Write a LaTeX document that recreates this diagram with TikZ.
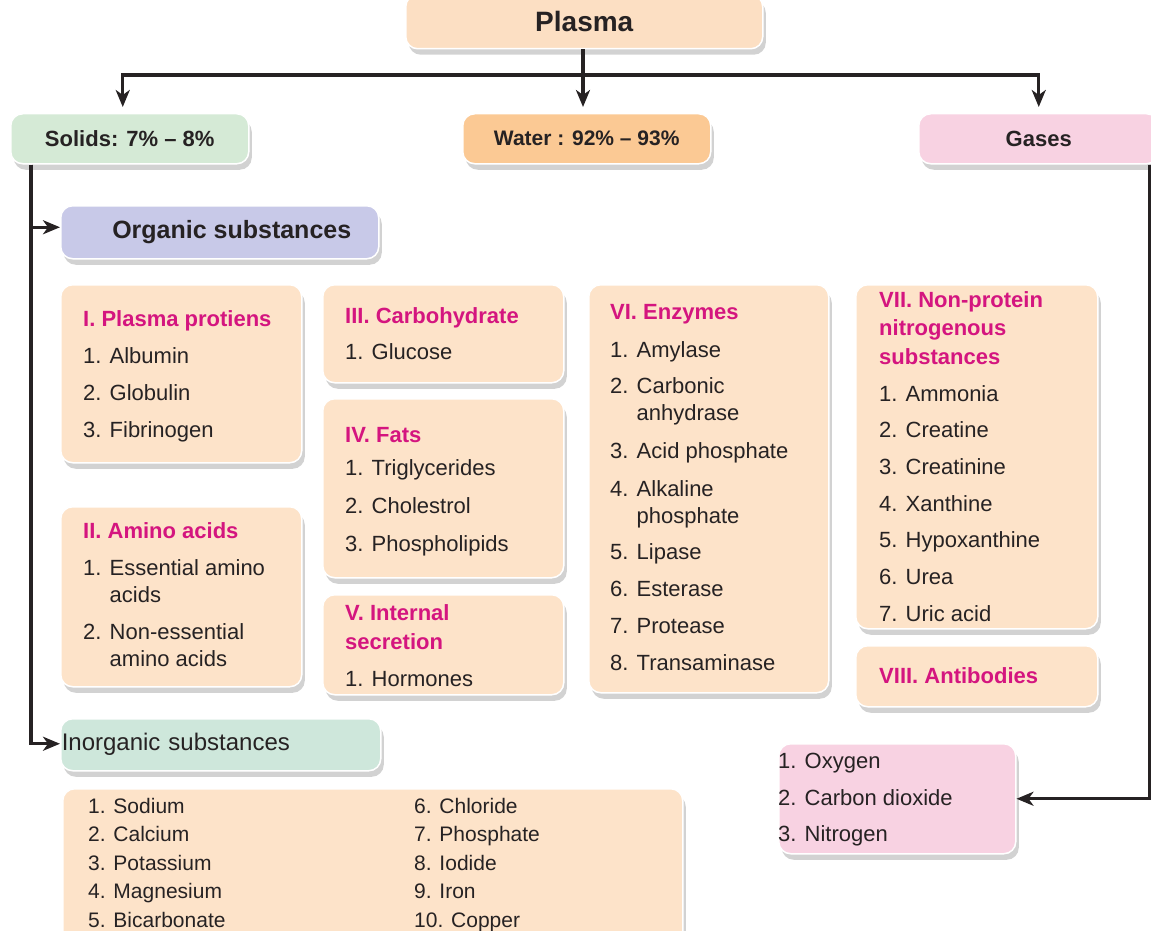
\documentclass[tikz,border=0pt]{standalone}
\usepackage{fontspec}
\setmainfont{Liberation Sans}
\usetikzlibrary{shadows,arrows.meta,calc}
\definecolor{peach}{HTML}{FDE3C9}
\definecolor{plasmac}{HTML}{FCDFC3}
\definecolor{waterc}{HTML}{FBC994}
\definecolor{solidc}{HTML}{D5EAD6}
\definecolor{gasc}{HTML}{F8D2E2}
\definecolor{orgc}{HTML}{C8C9E8}
\definecolor{inorgc}{HTML}{CEE7DB}
\definecolor{mag}{HTML}{D4157F}
\definecolor{ink}{HTML}{262223}
\newcommand\ttl[1]{{\color{mag}\bfseries #1}}
\begin{document}
\begin{tikzpicture}[x=1pt,y=-1pt,
  box/.style={draw=white, line width=1.5pt, rounded corners=12pt,
    drop shadow={shadow xshift=3pt, shadow yshift=-6pt, opacity=0.25, fill=black!70},
    inner sep=0pt, anchor=north west, text=ink},
  txt/.style={anchor=north west, align=left, inner sep=0pt, text=ink,
    font=\fontsize{22}{27}\selectfont},
  head/.style={font=\fontsize{22}{27}\selectfont\bfseries},
  conn/.style={line width=3.4pt, draw=ink},
  arr/.style={conn, -{Stealth[length=17pt,width=14pt,inset=5pt]}}
]
\useasboundingbox (0,0) rectangle (1151,931);

% top level boxes
\node[box, fill=plasmac, minimum width=357pt, minimum height=54pt,
  font=\fontsize{28}{30}\selectfont\bfseries] (plasma) at (405,-6) {Plasma};
\node[box, fill=solidc, minimum width=238pt, minimum height=50pt, head] (solids) at (10,113) {Solids: 7\% -- 8\%};
\node[box, fill=waterc, minimum width=248pt, minimum height=50pt,
  font=\fontsize{21}{27}\selectfont\bfseries] (water) at (462,113) {Water : 92\% -- 93\%};
\node[box, fill=gasc, minimum width=240pt, minimum height=50pt, head] (gases) at (918,113) {Gases};

% organic / inorganic headers
\node[box, fill=orgc, minimum width=318pt, minimum height=53pt,
  font=\fontsize{25}{27}\selectfont\bfseries] (org) at (60,205) {\hspace*{24pt}Organic substances};
\node[box, fill=inorgc, minimum width=320pt, minimum height=52pt, align=left, text width=318pt,
  font=\fontsize{24}{27}\selectfont] (inorg) at (60,718) {Inorganic substances};

% category boxes
\node[box, fill=peach, minimum width=241pt, minimum height=178pt] (b1) at (60,284) {};
\node[box, fill=peach, minimum width=241pt, minimum height=180pt] (b2) at (60,506) {};
\node[box, fill=peach, minimum width=241pt, minimum height=98pt] (b3) at (322,284) {};
\node[box, fill=peach, minimum width=241pt, minimum height=179pt] (b4) at (322,398) {};
\node[box, fill=peach, minimum width=241pt, minimum height=100pt] (b5) at (322,594) {};
\node[box, fill=peach, minimum width=240pt, minimum height=408pt] (b6) at (588,284) {};
\node[box, fill=peach, minimum width=242pt, minimum height=344pt] (b7) at (855,284) {};
\node[box, fill=peach, minimum width=242pt, minimum height=61pt] (b8) at (855,645) {};
\node[box, fill=peach, minimum width=620pt, minimum height=160pt] (b9) at (62,788) {};
\node[box, fill=gasc, minimum width=237pt, minimum height=110pt] (gl) at (778,743) {};

% texts
\node[txt] (t1) at (83,310) {\ttl{I. Plasma protiens}\\[10pt]1. Albumin\\[10pt]2. Globulin\\[10pt]3. Fibrinogen};
\node[txt] (t2) at (83,522) {\ttl{II. Amino acids}\\[10pt]1. Essential amino\\\phantom{1. }acids\\[10pt]2. Non-essential\\\phantom{2. }amino acids};
\node[txt] (t3) at (345,307) {\ttl{III. Carbohydrate}\\[9pt]1. Glucose};
\node[txt] (t4) at (345,427) {\ttl{IV. Fats}\\[6pt]1. Triglycerides\\[11pt]2. Cholestrol\\[11pt]3. Phospholipids};
\node[txt] (t5) at (345,604) {\ttl{V. Internal}\\[2pt]\ttl{secretion}\\[10pt]1. Hormones};
\node[txt] (t6) at (610,304) {\ttl{VI. Enzymes}\\[11pt]1. Amylase\\[9pt]2. Carbonic\\\phantom{2. }anhydrase\\[11pt]3. Acid phosphate\\[11pt]4. Alkaline\\\phantom{4. }phosphate\\[9pt]5. Lipase\\[10pt]6. Esterase\\[10pt]7. Protease\\[10pt]8. Transaminase};
\node[txt] (t7) at (879,291) {\ttl{VII. Non-protein}\\[1.5pt]\ttl{nitrogenous}\\[1.5pt]\ttl{substances}\\[10pt]1. Ammonia\\[9.7pt]2. Creatine\\[9.7pt]3. Creatinine\\[9.7pt]4. Xanthine\\[9.7pt]5. Hypoxanthine\\[9.7pt]6. Urea\\[9.7pt]7. Uric acid};
\node[txt] (t8) at (879,667) {\ttl{VIII. Antibodies}};
\node[txt, font=\fontsize{21}{28.5}\selectfont] (t9) at (88,798) {1. Sodium\\2. Calcium\\3. Potassium\\4. Magnesium\\5. Bicarbonate};
\node[txt, font=\fontsize{21}{28.5}\selectfont] (t10) at (414,798) {6. Chloride\\7. Phosphate\\8. Iodide\\9. Iron\\10. Copper};
\node[txt] (t11) at (778,753) {1. Oxygen\\[9.5pt]2. Carbon dioxide\\[9.5pt]3. Nitrogen};

% connectors
\coordinate (hub) at (583,75);
\draw[conn] (plasma.south -| hub) -- (hub);
\draw[arr, shorten >=6pt] (hub) -| ([xshift=-7pt]solids.north);
\draw[arr, shorten >=6pt] (hub) -- (water.north -| hub);
\draw[arr, shorten >=6pt] (hub) -| (gases.north);
\coordinate (sdown) at ([xshift=21pt]solids.south west);
\draw[arr] (sdown) |- ([yshift=5pt]org.west);
\draw[arr] (sdown) |- ([yshift=1pt]inorg.west);
\coordinate (gdown) at ([xshift=-10pt]gases.south east);
\draw[arr] (gdown) |- (gl.east);
\end{tikzpicture}
\end{document}
